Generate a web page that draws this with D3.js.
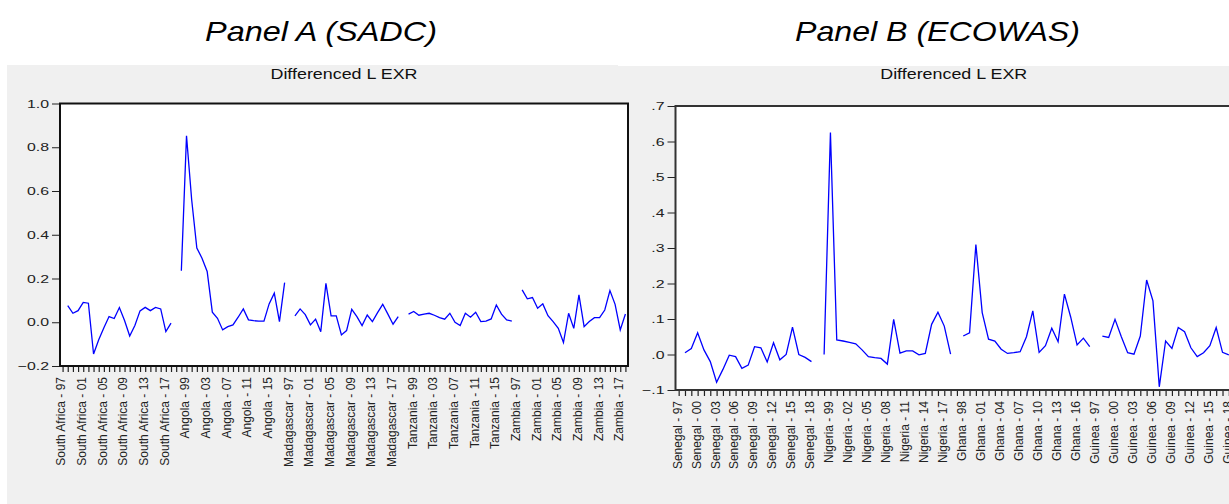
<!DOCTYPE html>
<html>
<head>
<meta charset="utf-8">
<script src="https://cdn.jsdelivr.net/npm/d3@7"></script>
<style>
  body { margin: 0; background: #fff; }
  text { font-family: "Liberation Sans", Arial, sans-serif; }
</style>
</head>
<body>
<script>
// chart size
const width = 1229
const height = 504

// years of each cross-section (first year is lost by differencing)
const years = [1997, 1998, 1999, 2000, 2001, 2002, 2003, 2004, 2005, 2006, 2007,
               2008, 2009, 2010, 2011, 2012, 2013, 2014, 2015, 2016, 2017, 2018]

// Panel A (SADC)
const sadcCountries = ["South Africa", "Angola", "Madagascar", "Tanzania", "Zambia"]
const southAfrica = [null, 0.076, 0.041, 0.053, 0.091, 0.087, -0.145, -0.080, -0.025, 0.026, 0.017,
                     0.067, 0.008, -0.063, -0.015, 0.052, 0.068, 0.053, 0.068, 0.061, -0.043, -0.004]
const angola = [null, 0.235, 0.852, 0.560, 0.339, 0.293, 0.232, 0.046, 0.018, -0.035, -0.020,
                -0.012, 0.023, 0.061, 0.011, 0.007, 0.005, 0.005, 0.084, 0.133, 0.003, 0.181]
const madagascar = [null, 0.029, 0.061, 0.035, -0.012, 0.014, -0.043, 0.178, 0.029, 0.029, -0.058,
                    -0.038, 0.059, 0.026, -0.015, 0.033, 0.003, 0.044, 0.082, 0.037, -0.009, 0.026]
const tanzania = [null, 0.037, 0.049, 0.032, 0.037, 0.041, 0.032, 0.021, 0.014, 0.041, 0.000,
                  -0.015, 0.041, 0.023, 0.046, 0.003, 0.005, 0.015, 0.079, 0.037, 0.011, 0.005]
const zambia = [null, 0.148, 0.107, 0.113, 0.064, 0.084, 0.030, 0.003, -0.028, -0.093, 0.041,
                -0.028, 0.125, -0.020, 0.003, 0.021, 0.021, 0.056, 0.145, 0.082, -0.035, 0.038]
const sadcTicks = [-0.2, 0.0, 0.2, 0.4, 0.6, 0.8, 1.0]

// Panel B (ECOWAS)
const ecowasCountries = ["Senegal", "Nigeria", "Ghana", "Guinea"]
const senegal = [null, 0.005, 0.017, 0.061, 0.013, -0.020, -0.078, -0.042, -0.002, -0.006, -0.039,
                 -0.030, 0.022, 0.019, -0.021, 0.033, -0.015, 0.000, 0.077, 0.000, -0.008, -0.020]
const nigeria = [null, 0.000, 0.625, 0.041, 0.038, 0.034, 0.030, 0.013, -0.006, -0.009, -0.011,
                 -0.027, 0.099, 0.004, 0.010, 0.010, -0.001, 0.003, 0.085, 0.119, 0.080, 0.001]
const ghana = [null, 0.052, 0.061, 0.310, 0.118, 0.043, 0.038, 0.015, 0.003, 0.005, 0.008,
               0.050, 0.123, 0.006, 0.025, 0.074, 0.036, 0.170, 0.105, 0.027, 0.046, 0.022]
const guinea = [null, 0.052, 0.048, 0.099, 0.050, 0.005, 0.001, 0.052, 0.210, 0.151, -0.091,
                0.038, 0.017, 0.076, 0.064, 0.019, -0.006, 0.005, 0.025, 0.076, 0.006, -0.001]
const ecowasTicks = [-0.1, 0.0, 0.1, 0.2, 0.3, 0.4, 0.5, 0.6, 0.7]

var svg = d3.select("body")
            .append("svg")
            .attr("width", width)
            .attr("height", height)

// grey graph frames
svg.append("rect").attr("x", 7).attr("y", 65).attr("width", 611).attr("height", height - 65).attr("fill", "#f0f0f0")
svg.append("rect").attr("x", 618).attr("y", 66).attr("width", width - 618).attr("height", height - 66).attr("fill", "#f0f0f0")

// panel headings
function heading(label, x, len) {
  svg.append("text")
     .attr("x", x)
     .attr("y", 41)
     .attr("font-size", "28px")
     .attr("font-style", "italic")
     .attr("fill", "#000")
     .attr("textLength", len)
     .attr("lengthAdjust", "spacingAndGlyphs")
     .text(label)
}
heading("Panel A (SADC)", 205, 232)
heading("Panel B (ECOWAS)", 795, 285)

// one EViews style panel line graph
function panelGraph(cfg) {
  // stacked observation ids: country index + year
  var obs = []
  cfg.countries.forEach(function(c, ci) {
    years.forEach(function(yr, yi) {
      obs.push({ id: ci + "-" + yr, country: c, year: yr, value: cfg.series[ci][yi], first: yi == 0 })
    })
  })

  var x = d3.scalePoint()
            .domain(obs.map(function(d) { return d.id }))
            .range([cfg.left, cfg.right])
            .padding(0.5)
  var y = d3.scaleLinear()
            .domain(cfg.yDomain)
            .range([cfg.bottom, cfg.top])

  var g = svg.append("g")
  var clipId = "clip" + cfg.name
  g.append("clipPath").attr("id", clipId)
   .append("rect").attr("x", 0).attr("y", 0).attr("width", width).attr("height", height)

  // plot area
  g.append("rect")
   .attr("x", cfg.left).attr("y", cfg.top)
   .attr("width", cfg.right - cfg.left).attr("height", cfg.bottom - cfg.top)
   .attr("fill", "#fff")

  g.append("text")
   .attr("x", (cfg.left + cfg.right) / 2)
   .attr("y", 79)
   .attr("text-anchor", "middle")
   .attr("font-size", "14.5px")
   .attr("fill", "#111")
   .attr("textLength", 147)
   .attr("lengthAdjust", "spacingAndGlyphs")
   .text("Differenced L EXR")

  // y axis
  var yAxis = d3.axisLeft(y)
                .tickValues(cfg.yTicks)
                .tickSize(8)
                .tickPadding(3)
                .tickFormat(cfg.yFormat)
  var ya = g.append("g").attr("transform", "translate(" + cfg.left + ",0)").call(yAxis)
  ya.select(".domain").remove()
  ya.selectAll(".tick line").attr("stroke", "#222")
  ya.selectAll(".tick text")
    .attr("font-size", "11.5px")
    .attr("fill", "#222")
    .attr("transform", "translate(-11,0) scale(1.38,1)")
    .attr("x", 0)

  // x axis: a tick at every observation, label every n-th one
  var xAxis = d3.axisBottom(x)
                .tickSize(6)
                .tickPadding(4)
                .tickFormat(function(id, i) {
                  if (i % cfg.every) return ""
                  var o = obs[i]
                  return o.country + " - " + String(o.year).slice(2)
                })
  var xa = g.append("g").attr("transform", "translate(0," + cfg.bottom + ")").call(xAxis)
  xa.select(".domain").remove()
  xa.selectAll(".tick line").attr("stroke", "#222").attr("stroke-width", 1.2)
  xa.selectAll(".tick text")
    .attr("font-size", "12px")
    .attr("fill", "#222")
    .attr("text-anchor", "end")
    .attr("transform", "rotate(-90)")
    .attr("x", -11)
    .attr("y", 0)
    .attr("dy", "0.2em")

  // one line per country, gaps between cross-sections
  var line = d3.line()
               .defined(function(d) { return d.value != null })
               .x(function(d) { return x(d.id) })
               .y(function(d) { return y(d.value) })
  cfg.countries.forEach(function(c) {
    g.append("path")
     .datum(obs.filter(function(d) { return d.country == c }))
     .attr("fill", "none")
     .attr("stroke", "#0000ff")
     .attr("stroke-width", 1.3)
     .attr("d", line)
  })

  // frame
  g.append("rect")
   .attr("x", cfg.left).attr("y", cfg.top)
   .attr("width", cfg.right - cfg.left).attr("height", cfg.bottom - cfg.top)
   .attr("fill", "none")
   .attr("stroke", cfg.frame)
   .attr("stroke-width", 2)
}

panelGraph({
  name: "A",
  countries: sadcCountries,
  series: [southAfrica, angola, madagascar, tanzania, zambia],
  left: 60, right: 628, top: 103.5, bottom: 366,
  yDomain: [-0.2, 1.0], yTicks: sadcTicks,
  yFormat: d3.format(".1f"),
  every: 4,
  frame: "#111"
})

panelGraph({
  name: "B",
  countries: ecowasCountries,
  series: [senegal, nigeria, ghana, guinea],
  left: 675.5, right: 1232, top: 106, bottom: 390,
  yDomain: [-0.1, 0.7], yTicks: ecowasTicks,
  yFormat: function(v) { return d3.format(".1f")(v).replace("0.", ".") },
  every: 3,
  frame: "#333"
})
</script>
</body>
</html>
